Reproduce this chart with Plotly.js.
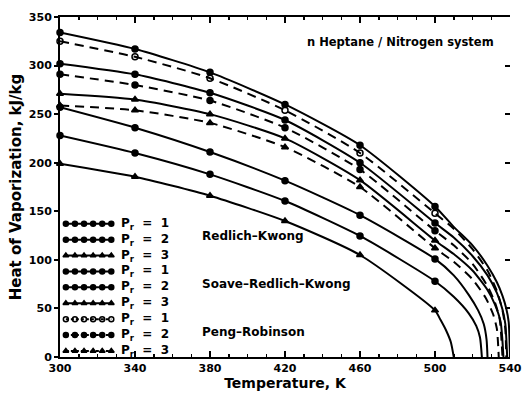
<!DOCTYPE html>
<html>
<head>
<meta charset="utf-8">
<script src="https://cdn.plot.ly/plotly-3.0.1.min.js"></script>
<style>html,body{margin:0;padding:0;background:#fff;}#chart{width:523px;height:394px;}</style>
</head>
<body>
<div id="chart"></div>
<script>
// Temperatures (K) where markers sit
const T = [300, 340, 380, 420, 460, 500];

// Redlich-Kwong (solid)
const rk1 = [257, 236, 211, 181.5, 146, 101];
const rk1TailT = [510, 518, 523, 526, 527.5, 528];
const rk1TailV = [84, 64, 48, 34, 18, 0];
const rk2 = [228, 210, 188, 160.6, 124.6, 78];
const rk2TailT = [510, 518, 522, 524, 525];
const rk2TailV = [62, 45, 32, 20, 0];
const rk3 = [199, 185.6, 166, 140, 105, 48];
const rk3TailT = [503, 506, 508.5, 510];
const rk3TailV = [38, 27, 15, 0];

// Soave-Redlich-Kwong (solid)
const srk1 = [334, 317, 293, 260, 218, 155];
const srk1TailT = [510, 520, 528, 533, 536, 538, 539.3, 540];
const srk1TailV = [134, 115, 94, 77, 63, 50, 36, 0];
const srk2 = [302, 291, 272, 244, 200, 138];
const srk2TailT = [510, 520, 528, 533, 536, 537.5, 538.5];
const srk2TailV = [123, 104, 84, 66, 49, 34, 0];
const srk3 = [271, 265, 250, 225, 182, 120];
const srk3TailT = [510, 520, 528, 532, 535, 536.5];
const srk3TailV = [106, 89, 69, 54, 36, 0];

// Peng-Robinson (dashed)
const pr1 = [325, 309, 287, 254, 210, 148];
const pr1TailT = [510, 520, 528, 533, 536, 537.5, 538];
const pr1TailV = [132, 111, 89, 68, 48, 29, 0];
const pr2 = [291, 280, 264, 236, 193, 130];
const pr2TailT = [510, 520, 528, 532, 534.5, 536];
const pr2TailV = [115, 96, 73, 56, 39, 0];
const pr3 = [259, 254, 241, 216, 175, 112];
const pr3TailT = [510, 520, 527, 531, 533, 534];
const pr3TailV = [98, 80, 61, 44, 29, 0];

// Legend content
const legendPr = ['1', '2', '3', '1', '2', '3', '1', '2', '3'];
const methodNames = ['Redlich\u2013Kwong', 'Soave\u2013Redlich\u2013Kwong', 'Peng\u2013Robinson'];

const xTicks = [300, 340, 380, 420, 460, 500, 540];
const yTicks = [0, 50, 100, 150, 200, 250, 300, 350];

const curves = [
  {v: rk1, tt: rk1TailT, tv: rk1TailV, sym: 'circle', dash: 'solid'},
  {v: rk2, tt: rk2TailT, tv: rk2TailV, sym: 'circle', dash: 'solid'},
  {v: rk3, tt: rk3TailT, tv: rk3TailV, sym: 'triangle-up', dash: 'solid'},
  {v: srk1, tt: srk1TailT, tv: srk1TailV, sym: 'circle', dash: 'solid'},
  {v: srk2, tt: srk2TailT, tv: srk2TailV, sym: 'circle', dash: 'solid'},
  {v: srk3, tt: srk3TailT, tv: srk3TailV, sym: 'triangle-up', dash: 'solid'},
  {v: pr1, tt: pr1TailT, tv: pr1TailV, sym: 'circle-open', dash: '9px,6px'},
  {v: pr2, tt: pr2TailT, tv: pr2TailV, sym: 'circle', dash: '9px,6px'},
  {v: pr3, tt: pr3TailT, tv: pr3TailV, sym: 'triangle-up', dash: '9px,6px'}
];

const FONT = 'DejaVu Sans';
const traces = [];
curves.forEach(c => {
  traces.push({
    x: T.concat(c.tt), y: c.v.concat(c.tv), type: 'scatter', mode: 'lines',
    line: {color: '#000', width: 2, dash: c.dash, shape: 'spline', smoothing: 0.6},
    showlegend: false, hoverinfo: 'skip'
  });
  traces.push({
    x: T, y: c.v, type: 'scatter', mode: 'markers',
    marker: {color: '#000', size: 6, symbol: c.sym, line: {color: '#000', width: 1.5}},
    showlegend: false, cliponaxis: false, hoverinfo: 'skip'
  });
});

// Custom legend on an overlay axis pair (0..1 of the plot area)
const legX0 = 0.013, legX1 = 0.114, legY0 = 0.392, legStep = 0.0468;
const annotations = [];
legendPr.forEach((p, i) => {
  const c = curves[i];
  const y = legY0 - i * legStep;
  const xs = [], ys = [];
  for (let k = 0; k < 6; k++) { xs.push(legX0 + k * (legX1 - legX0) / 5); ys.push(y); }
  traces.push({
    x: xs, y: ys, xaxis: 'x2', yaxis: 'y2', type: 'scatter', mode: 'lines+markers',
    line: {color: '#000', width: 2, dash: c.dash === 'solid' ? 'solid' : '3px,2px'},
    marker: {color: '#000', size: 5, symbol: c.sym, line: {color: '#000', width: 1.5}},
    showlegend: false, hoverinfo: 'skip', cliponaxis: false
  });
  annotations.push({
    xref: 'paper', yref: 'paper', x: 0.132, y: y, xanchor: 'left', yanchor: 'middle',
    text: 'P<sub>r</sub>  =  ' + p, showarrow: false,
    font: {family: FONT, size: 12, weight: 'bold', color: '#000'}
  });
});
methodNames.forEach((m, j) => {
  annotations.push({
    xref: 'paper', yref: 'paper', x: 0.31, y: legY0 - (3 * j + 1) * legStep + 0.01,
    xanchor: 'left', yanchor: 'middle', text: m, showarrow: false,
    font: {family: FONT, size: 12, weight: 'bold', color: '#000'}
  });
});
annotations.push({
  xref: 'paper', yref: 'paper', x: 0.757, y: 0.926, xanchor: 'center', yanchor: 'middle',
  text: 'n Heptane / Nitrogen system', showarrow: false,
  font: {family: FONT, size: 11.5, weight: 'bold', color: '#000'}
});

const tickFont = {family: FONT, size: 11, weight: 'bold', color: '#000'};
const layout = {
  width: 523, height: 394,
  margin: {l: 60, r: 13, t: 17, b: 37, pad: 0},
  paper_bgcolor: '#fff', plot_bgcolor: '#fff',
  showlegend: false,
  xaxis: {
    range: [300, 540], tickvals: xTicks, ticktext: xTicks.map(String),
    showgrid: false, zeroline: false, showline: true, linecolor: '#000', linewidth: 2,
    mirror: 'ticks', ticks: 'inside', ticklen: 6, tickwidth: 2, tickcolor: '#000',
    minor: {dtick: 10, tick0: 300, ticks: 'inside', ticklen: 3, tickwidth: 1.5, tickcolor: '#000', showgrid: false},
    tickfont: tickFont,
    title: {text: 'Temperature, K', font: {family: FONT, size: 14, weight: 'bold', color: '#000'}, standoff: 3}
  },
  yaxis: {
    range: [0, 350], tickvals: yTicks, ticktext: yTicks.map(String),
    showgrid: false, zeroline: false, showline: true, linecolor: '#000', linewidth: 2,
    ticks: 'outside', ticklen: 4, tickwidth: 2, tickcolor: '#000',
    tickfont: tickFont,
    title: {text: 'Heat of Vaporization, kJ/kg', font: {family: FONT, size: 15, weight: 'bold', color: '#000'}, standoff: 4}
  },
  yaxis3: {
    range: [0, 350], overlaying: 'y', side: 'right', anchor: 'x',
    tickvals: yTicks, showticklabels: false, showgrid: false, zeroline: false, showline: false,
    ticks: 'inside', ticklen: 5, tickwidth: 2, tickcolor: '#000'
  },
  xaxis2: {range: [0, 1], overlaying: 'x', visible: false, anchor: 'y2'},
  yaxis2: {range: [0, 1], overlaying: 'y', visible: false, anchor: 'x2'},
  annotations: annotations
};

// invisible trace so the right-hand tick axis is drawn
traces.push({x: [300], y: [0], yaxis: 'y3', type: 'scatter', mode: 'markers', marker: {opacity: 0}, showlegend: false, hoverinfo: 'skip'});

Plotly.newPlot('chart', traces, layout, {staticPlot: true, displayModeBar: false});
</script>
</body>
</html>
